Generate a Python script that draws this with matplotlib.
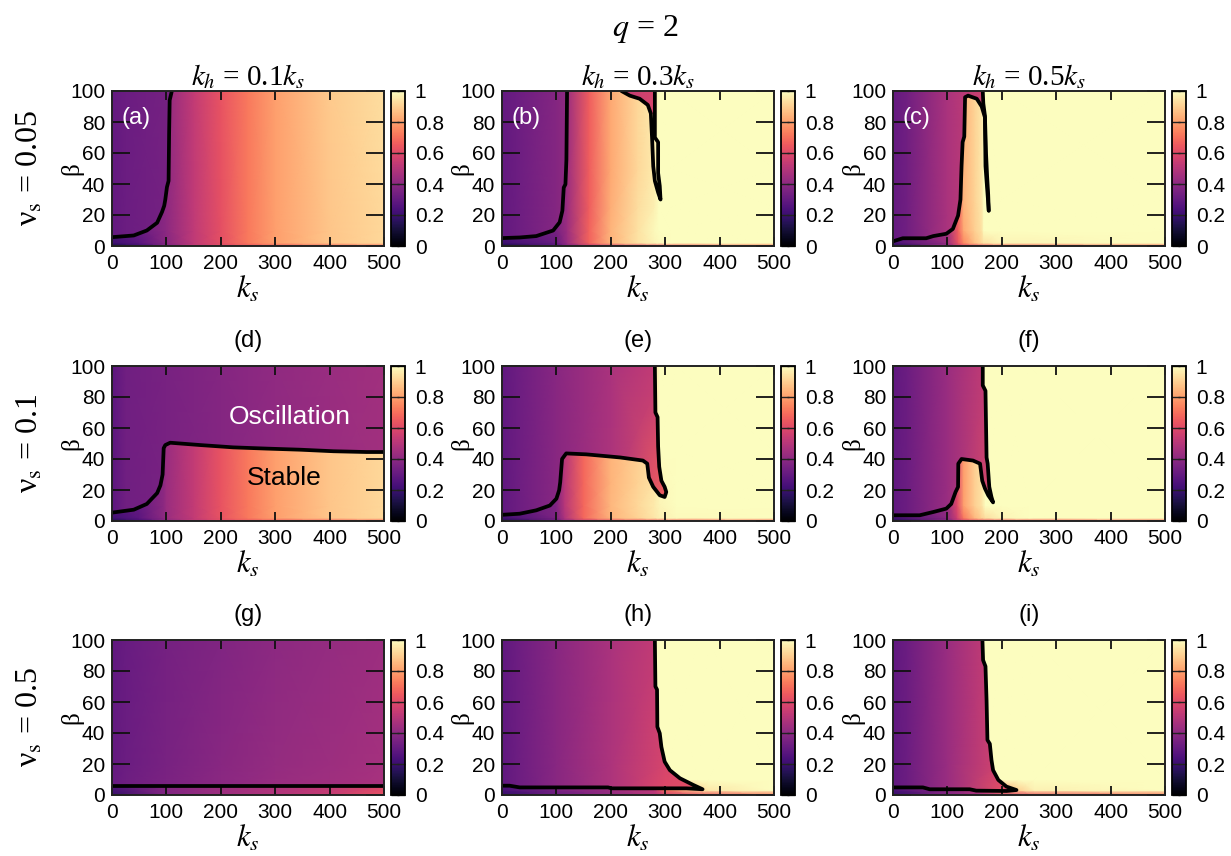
import numpy as np
import matplotlib
matplotlib.use('Agg')
import matplotlib.pyplot as plt
from matplotlib.patches import Polygon
from matplotlib.colors import Normalize
from matplotlib.cm import ScalarMappable

plt.rcParams['mathtext.fontset'] = 'stix'
plt.rcParams['font.family'] = ['Liberation Sans', 'DejaVu Sans']

# ---------------- data ----------------
MAIN_TITLE = r'$q$ = 2'
COL_TITLES = [r'$k_h$ = 0.1$k_s$', r'$k_h$ = 0.3$k_s$', r'$k_h$ = 0.5$k_s$']
ROW_TITLES = [r'ν$_{\rm s}$ = 0.05', r'ν$_{\rm s}$ = 0.1', r'ν$_{\rm s}$ = 0.5']
X_LABEL = r'$k_s$'
Y_LABEL = 'β'
LETTERS = ['(a)', '(b)', '(c)', '(d)', '(e)', '(f)', '(g)', '(h)', '(i)']
X_TICKS = [0, 100, 200, 300, 400, 500]
Y_TICKS = [0, 20, 40, 60, 80, 100]
CB_TICKS = [0, 0.2, 0.4, 0.6, 0.8, 1]
CB_LABELS = ['0', '0.2', '0.4', '0.6', '0.8', '1']

# oscillation-side field (rows: beta nodes, columns: ks nodes)
OSC_KS = [0, 25, 100, 200, 300, 400, 500]
OSC_BETA = [0, 20, 100]
OSC_A = [[0.30, 0.32, 0.34, 0.39, 0.43, 0.46, 0.48],
         [0.30, 0.32, 0.34, 0.39, 0.43, 0.46, 0.48],
         [0.30, 0.32, 0.34, 0.39, 0.43, 0.46, 0.48]]
OSC_B = [[0.30, 0.32, 0.38, 0.50, 0.60, 0.60, 0.60],
         [0.30, 0.32, 0.38, 0.50, 0.60, 0.60, 0.60],
         [0.30, 0.32, 0.38, 0.50, 0.60, 0.60, 0.60]]
OSC_C = [[0.30, 0.33, 0.47, 0.60, 0.60, 0.60, 0.60],
         [0.30, 0.33, 0.47, 0.60, 0.60, 0.60, 0.60],
         [0.30, 0.33, 0.47, 0.60, 0.60, 0.60, 0.60]]
OSC_D = [[0.28, 0.33, 0.35, 0.38, 0.41, 0.43, 0.45],
         [0.28, 0.33, 0.35, 0.38, 0.41, 0.43, 0.45],
         [0.28, 0.33, 0.35, 0.38, 0.41, 0.43, 0.45]]
OSC_E = [[0.29, 0.32, 0.39, 0.48, 0.68, 0.70, 0.70],
         [0.29, 0.32, 0.39, 0.48, 0.66, 0.70, 0.70],
         [0.29, 0.32, 0.39, 0.47, 0.54, 0.56, 0.56]]
OSC_F = [[0.29, 0.32, 0.43, 0.62, 0.70, 0.70, 0.70],
         [0.29, 0.32, 0.43, 0.62, 0.70, 0.70, 0.70],
         [0.29, 0.32, 0.43, 0.57, 0.60, 0.60, 0.60]]
OSC_G = [[0.31, 0.33, 0.36, 0.40, 0.43, 0.45, 0.47],
         [0.30, 0.32, 0.35, 0.39, 0.42, 0.44, 0.46],
         [0.29, 0.31, 0.34, 0.37, 0.40, 0.42, 0.44]]
OSC_H = [[0.29, 0.32, 0.39, 0.48, 0.60, 0.65, 0.65],
         [0.29, 0.32, 0.39, 0.48, 0.58, 0.62, 0.62],
         [0.29, 0.32, 0.39, 0.47, 0.54, 0.56, 0.56]]
OSC_I = [[0.29, 0.32, 0.43, 0.62, 0.65, 0.65, 0.65],
         [0.29, 0.32, 0.43, 0.58, 0.62, 0.62, 0.62],
         [0.29, 0.32, 0.43, 0.57, 0.60, 0.60, 0.60]]

# stable-side fields
STB_A_KS = [0, 50, 100, 150, 200, 250, 300, 400, 500]
STB_A_BETA = [0, 2, 10, 100]
STB_A = [[0.12, 0.20, 0.36, 0.52, 0.60, 0.64, 0.66, 0.68, 0.70],
         [0.20, 0.27, 0.39, 0.52, 0.62, 0.72, 0.80, 0.88, 0.92],
         [0.27, 0.31, 0.40, 0.52, 0.62, 0.72, 0.80, 0.88, 0.92],
         [0.29, 0.32, 0.41, 0.53, 0.63, 0.72, 0.80, 0.89, 0.93]]

STB_B_KS = [0, 100, 120, 160, 200, 250, 280, 288, 310, 500]
STB_B_BETA = [0, 2, 10, 25, 50, 100]
STB_B = [[0.12, 0.25, 0.38, 0.52, 0.58, 0.62, 0.64, 0.65, 0.67, 0.74],
         [0.20, 0.31, 0.43, 0.67, 0.84, 0.94, 0.98, 0.99, 1.00, 1.00],
         [0.27, 0.35, 0.44, 0.67, 0.84, 0.94, 0.99, 1.00, 1.00, 1.00],
         [0.29, 0.35, 0.44, 0.66, 0.83, 0.93, 0.97, 1.00, 1.00, 1.00],
         [0.29, 0.35, 0.44, 0.66, 0.82, 0.92, 0.96, 1.00, 1.00, 1.00],
         [0.29, 0.35, 0.44, 0.66, 0.82, 0.92, 0.96, 1.00, 1.00, 1.00]]

STB_C_KS = [0, 100, 120, 130, 150, 163, 167, 200, 500]
STB_C_BETA = [0, 2, 10, 30, 100]
STB_C = [[0.15, 0.40, 0.55, 0.60, 0.62, 0.64, 0.65, 0.68, 0.72],
         [0.22, 0.43, 0.64, 0.75, 0.87, 0.92, 0.94, 0.98, 1.00],
         [0.28, 0.46, 0.67, 0.82, 0.90, 0.94, 1.00, 1.00, 1.00],
         [0.29, 0.47, 0.67, 0.84, 0.91, 0.95, 1.00, 1.00, 1.00],
         [0.29, 0.47, 0.67, 0.84, 0.91, 0.95, 1.00, 1.00, 1.00]]

STB_D_KS = [0, 50, 95, 100, 150, 200, 250, 300, 400, 500]
STB_D_BETA = [0, 2, 10, 60]
STB_D = [[0.14, 0.22, 0.36, 0.40, 0.52, 0.60, 0.64, 0.66, 0.68, 0.70],
         [0.21, 0.28, 0.40, 0.43, 0.53, 0.63, 0.72, 0.80, 0.88, 0.92],
         [0.27, 0.30, 0.40, 0.43, 0.53, 0.63, 0.72, 0.80, 0.88, 0.92],
         [0.27, 0.30, 0.40, 0.43, 0.53, 0.63, 0.72, 0.80, 0.88, 0.92]]

STB_E_KS = [0, 100, 115, 150, 200, 250, 280, 290, 320, 500]
STB_E_BETA = [0, 2, 10, 25, 45, 100]
STB_E = [[0.14, 0.30, 0.42, 0.54, 0.62, 0.65, 0.66, 0.66, 0.68, 0.72],
         [0.21, 0.36, 0.48, 0.68, 0.84, 0.91, 0.95, 0.97, 0.99, 1.00],
         [0.27, 0.37, 0.50, 0.68, 0.85, 0.92, 0.96, 0.98, 1.00, 1.00],
         [0.28, 0.37, 0.50, 0.68, 0.84, 0.91, 0.94, 0.99, 1.00, 1.00],
         [0.28, 0.37, 0.50, 0.68, 0.84, 0.90, 0.93, 1.00, 1.00, 1.00],
         [0.28, 0.37, 0.50, 0.68, 0.84, 0.90, 0.93, 1.00, 1.00, 1.00]]

STB_F_KS = [0, 100, 118, 130, 150, 163, 170, 200, 250, 500]
STB_F_BETA = [0, 2, 10, 100]
STB_F = [[0.14, 0.35, 0.50, 0.58, 0.62, 0.63, 0.64, 0.66, 0.68, 0.72],
         [0.21, 0.40, 0.56, 0.72, 0.85, 0.90, 0.93, 0.98, 1.00, 1.00],
         [0.27, 0.42, 0.60, 0.80, 0.90, 0.94, 1.00, 1.00, 1.00, 1.00],
         [0.27, 0.42, 0.60, 0.80, 0.90, 0.94, 1.00, 1.00, 1.00, 1.00]]

STB_G_KS = [0, 100, 200, 300, 400, 500]
STB_G_BETA = [0, 6]
STB_G = [[0.18, 0.37, 0.44, 0.49, 0.54, 0.63],
         [0.26, 0.38, 0.44, 0.48, 0.52, 0.58]]

STB_H_KS = [0, 100, 200, 280, 285, 300, 360, 380, 500]
STB_H_BETA = [0, 3, 10, 100]
STB_H = [[0.18, 0.31, 0.41, 0.49, 0.50, 0.55, 0.62, 0.65, 0.72],
         [0.23, 0.35, 0.44, 0.52, 0.56, 0.70, 0.90, 0.95, 1.00],
         [0.27, 0.35, 0.44, 0.52, 1.00, 1.00, 1.00, 1.00, 1.00],
         [0.27, 0.35, 0.44, 0.52, 1.00, 1.00, 1.00, 1.00, 1.00]]

STB_I_KS = [0, 100, 160, 168, 200, 230, 260, 500]
STB_I_BETA = [0, 3, 10, 100]
STB_I = [[0.18, 0.36, 0.46, 0.48, 0.55, 0.60, 0.65, 0.72],
         [0.23, 0.40, 0.50, 0.56, 0.75, 0.90, 0.97, 1.00],
         [0.27, 0.40, 0.50, 1.00, 1.00, 1.00, 1.00, 1.00],
         [0.27, 0.40, 0.50, 1.00, 1.00, 1.00, 1.00, 1.00]]

# boundary (contour) lines
CONT_A_KS = [0, 40, 64, 83, 92, 96, 98, 101, 104, 105, 106, 110]
CONT_A_BETA = [5.7, 6.8, 10, 15, 22, 26, 30, 38, 42, 73, 94, 100]
CONT_B1_KS = [0, 32.5, 63, 94, 106, 111, 113.5, 116.6, 118.4, 119.6]
CONT_B1_BETA = [5.1, 5.5, 6.4, 10, 15.3, 22.8, 37.7, 39.8, 55.7, 100]
CONT_B2_KS = [219.6, 235, 253, 268, 273.6, 276, 278, 281, 287, 291.4, 290, 287, 287, 281, 281]
CONT_B2_BETA = [100, 97, 95, 91, 85.5, 68.5, 51.5, 42, 34.5, 30, 38.7, 47, 67, 70, 100]
CONT_C1_KS = [0, 18, 61, 74, 98, 110, 119.6, 124, 126, 128, 131, 132.5, 138, 154, 163, 169, 170, 173.6, 176]
CONT_C1_BETA = [3, 5, 5, 6.4, 7.9, 11, 19.6, 30, 51.5, 67, 70.6, 96, 97, 95, 90, 83, 51.5, 34.5, 22.8]
CONT_C2_KS = [165, 166, 169, 171, 173, 175, 176]
CONT_C2_BETA = [100, 92, 84, 60, 45, 33, 22.8]
CONT_D_KS = [0, 40, 64, 83, 89, 93, 95, 98, 107, 162, 223, 285, 346, 407, 468, 500]
CONT_D_BETA = [5.4, 7.3, 11, 18, 23, 30, 47, 49, 50.5, 49, 47.5, 46.7, 46, 45, 44.5, 44.5]
CONT_E_KS = [0, 32.5, 63, 88, 100, 105, 107, 110.4, 118, 155, 217, 259, 267, 270, 278, 290, 299, 302,
             299, 293, 289, 287, 286, 282, 281]
CONT_E_BETA = [4, 4.7, 6.9, 10, 14.4, 19.8, 25, 40, 43.6, 43, 41, 39, 37, 28, 22, 16.6, 15.5, 18.7,
               22, 26, 35, 48, 67, 70, 100]
CONT_F_KS = [0, 49, 74, 98, 107, 115, 119.6, 120, 126, 147, 160, 164, 169, 175, 184, 181, 177, 174,
             172, 170, 165, 165]
CONT_F_BETA = [3.7, 3.7, 5.8, 8, 11, 18.7, 22, 37, 40, 39, 37, 26, 21, 16.6, 12, 15.5, 22, 37,
               41, 84, 87.5, 100]
CONT_G_KS = [0, 500]
CONT_G_BETA = [6, 6]
CONT_H_KS = [281, 282, 285, 285.6, 290, 293, 299, 308.6, 327, 351.5, 368.7, 339, 278, 201, 195, 94, 32.5, 14, 0]
CONT_H_BETA = [100, 70, 68, 44, 39.8, 31, 21.5, 16, 10.8, 6.5, 3.7, 4.3, 4.3, 4.3, 4.9, 4.9, 4.9, 6, 6]
CONT_I_KS = [164.4, 165.6, 170, 172, 173.6, 178, 181, 184, 193.6, 208.6, 227, 208.6, 153, 141, 67.5, 55, 0]
CONT_I_BETA = [100, 87, 83, 61, 35.5, 33, 22.6, 16, 9.7, 5.4, 3.2, 2.6, 2.8, 3.7, 3.7, 4.9, 4.9]

# closing points of the stable-region outline (appended after the main contour)
TAIL_A = ([500, 500, 0], [100, 0, 0])
TAIL_B = ([219.6, 235, 253, 268, 273.6, 281, 281, 500, 500, 0], [100, 97, 95, 91, 85.5, 84, 100, 100, 0, 0])
TAIL_C = ([165, 500, 500, 0], [100, 100, 0, 0])
TAIL_D = ([500, 0], [0, 0])
TAIL_E = ([500, 500, 0], [100, 0, 0])
TAIL_F = ([500, 500, 0], [100, 0, 0])
TAIL_G = ([500, 0], [0, 0])
TAIL_H = ([0, 500, 500], [0, 0, 100])
TAIL_I = ([0, 500, 500], [0, 0, 100])

PANELS = [
    (OSC_A, STB_A_KS, STB_A_BETA, STB_A, (CONT_A_KS, CONT_A_BETA), TAIL_A, [(CONT_A_KS, CONT_A_BETA)]),
    (OSC_B, STB_B_KS, STB_B_BETA, STB_B, (CONT_B1_KS, CONT_B1_BETA), TAIL_B,
     [(CONT_B1_KS, CONT_B1_BETA), (CONT_B2_KS, CONT_B2_BETA)]),
    (OSC_C, STB_C_KS, STB_C_BETA, STB_C, (CONT_C1_KS, CONT_C1_BETA), TAIL_C,
     [(CONT_C1_KS, CONT_C1_BETA), (CONT_C2_KS, CONT_C2_BETA)]),
    (OSC_D, STB_D_KS, STB_D_BETA, STB_D, (CONT_D_KS, CONT_D_BETA), TAIL_D, [(CONT_D_KS, CONT_D_BETA)]),
    (OSC_E, STB_E_KS, STB_E_BETA, STB_E, (CONT_E_KS, CONT_E_BETA), TAIL_E, [(CONT_E_KS, CONT_E_BETA)]),
    (OSC_F, STB_F_KS, STB_F_BETA, STB_F, (CONT_F_KS, CONT_F_BETA), TAIL_F, [(CONT_F_KS, CONT_F_BETA)]),
    (OSC_G, STB_G_KS, STB_G_BETA, STB_G, (CONT_G_KS, CONT_G_BETA), TAIL_G, [(CONT_G_KS, CONT_G_BETA)]),
    (OSC_H, STB_H_KS, STB_H_BETA, STB_H, (CONT_H_KS, CONT_H_BETA), TAIL_H, [(CONT_H_KS, CONT_H_BETA)]),
    (OSC_I, STB_I_KS, STB_I_BETA, STB_I, (CONT_I_KS, CONT_I_BETA), TAIL_I, [(CONT_I_KS, CONT_I_BETA)]),
]

# ---------------- layout ----------------
W, H = 1231, 856
fig = plt.figure(figsize=(W / 100, H / 100), dpi=100)
cmap = plt.get_cmap('magma')
norm = Normalize(0, 1)
SERIF = ['Liberation Serif', 'DejaVu Serif']

COL_LEFT = [112, 502, 893]
ROW_TOP = [91, 366, 640]
PW, PH = 272, 155
CB_GAP, CB_W = 7, 14


def fax(l, t, w, h):
    return fig.add_axes([l / W, 1 - (t + h) / H, w / W, h / H])


for idx, (osc, sks, sb, sz, main, tail, lines) in enumerate(PANELS):
    r, c = divmod(idx, 3)
    ax = fax(COL_LEFT[c], ROW_TOP[r], PW, PH)
    KS, BB = np.meshgrid(OSC_KS, OSC_BETA)
    ax.pcolormesh(KS, BB, np.array(osc), cmap=cmap, norm=norm, shading='gouraud', zorder=0)
    KS2, BB2 = np.meshgrid(sks, sb)
    m = ax.pcolormesh(KS2, BB2, np.array(sz), cmap=cmap, norm=norm, shading='gouraud', zorder=0.5)
    px = list(main[0]) + list(tail[0])
    py = list(main[1]) + list(tail[1])
    poly = Polygon(np.column_stack([px, py]), closed=True, transform=ax.transData)
    m.set_clip_path(poly)
    for lk, lb in lines:
        ax.plot(lk, lb, color='black', lw=2.7, solid_joinstyle='round', solid_capstyle='round', zorder=2)
    ax.set_xlim(0, 500)
    ax.set_ylim(0, 100)
    ax.set_xticks(X_TICKS)
    ax.set_yticks(Y_TICKS)
    ax.tick_params(direction='in', top=True, right=True, labelsize=15, width=1.3, color='#111111')
    ax.tick_params(axis='x', length=6.5, pad=6)
    ax.tick_params(axis='y', length=13, pad=5)
    for s in ax.spines.values():
        s.set_linewidth(1.4)
        s.set_color('#222222')
    ax.text(-0.148, 0.5, Y_LABEL, transform=ax.transAxes, rotation=90, ha='center', va='center',
            fontsize=18, family=SERIF)
    ax.text(0.5, -0.285, X_LABEL, transform=ax.transAxes, ha='center', va='center', fontsize=22)
    if r == 0:
        ax.text(0.035, 0.826, LETTERS[idx], transform=ax.transAxes, ha='left', va='center',
                fontsize=17, color='white')
        ax.text(0.5, 1.0, COL_TITLES[c], transform=ax.transAxes, ha='center', va='bottom',
                fontsize=21, family=SERIF)
    else:
        ax.text(0.5, 1.16, LETTERS[idx], transform=ax.transAxes, ha='center', va='center', fontsize=17)
    if idx == 3:
        ax.text(327, 67, 'Oscillation', ha='center', va='center', fontsize=19, color='white')
        ax.text(316, 28, 'Stable', ha='center', va='center', fontsize=19, color='black')

    cax = fax(COL_LEFT[c] + PW + CB_GAP, ROW_TOP[r], CB_W, PH)
    cb = fig.colorbar(ScalarMappable(norm=norm, cmap=cmap), cax=cax)
    cb.set_ticks(CB_TICKS)
    cb.set_ticklabels(CB_LABELS)
    cb.outline.set_linewidth(1.3)
    cax.tick_params(direction='in', left=True, right=True, labelleft=False, labelright=True,
                    length=5.5, width=1.0, labelsize=15, pad=7, color='#222222')

for r in range(3):
    yc = ROW_TOP[r] + PH / 2
    fig.text(30 / W, 1 - yc / H, ROW_TITLES[r], rotation=90, ha='center', va='center',
             fontsize=23, family=SERIF)

fig.text(645 / W, 1 - 29 / H, MAIN_TITLE, ha='center', va='center', fontsize=23, family=SERIF)

fig.savefig('out.png', dpi=100)
